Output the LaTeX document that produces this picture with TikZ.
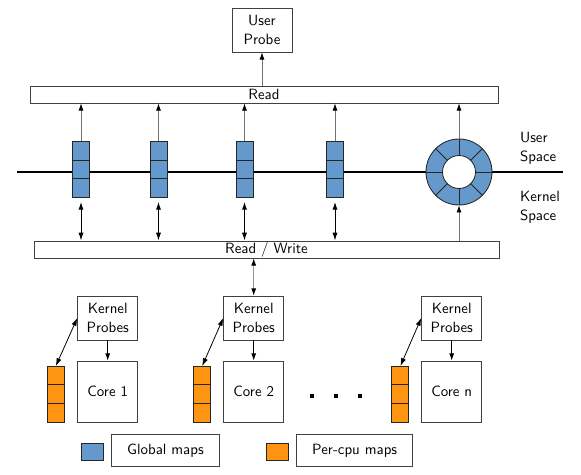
\documentclass[tikz,border=0pt]{standalone}
\usetikzlibrary{positioning,arrows.meta}
\definecolor{mapblue}{RGB}{101,153,204}
\definecolor{maporange}{RGB}{255,148,18}

\begin{document}
\begin{tikzpicture}[x=0.7pt,y=-0.7pt,
  box/.style={draw=black!75, line width=0.6pt, fill=white, inner sep=0pt, align=center, font=\sffamily\fontsize{10.4}{13}\selectfont},
  cell/.style={draw=black!85, line width=0.6pt, inner sep=0pt, outer sep=0pt, minimum width=11.9pt, minimum height=13.1pt},
  gcell/.style={cell, fill=mapblue},
  pcell/.style={cell, fill=maporange},
  arr/.style={-{Latex[length=5pt,width=3.5pt]}, line width=0.55pt},
  garr/.style={-{Latex[length=5pt,width=3.5pt,color=black]}, draw=black!55, line width=0.55pt},
  darr/.style={{Latex[length=5.5pt,width=3.6pt]}-{Latex[length=5.5pt,width=3.6pt]}, line width=0.7pt},
  gdarr/.style={{Latex[length=5pt,width=3.5pt,color=black]}-{Latex[length=5pt,width=3.5pt,color=black]}, draw=black!40, line width=0.5pt},
]
\useasboundingbox (0,0) rectangle (581,474);
\coordinate (lineL) at (17,172);
\coordinate (lineR) at (563,172);
\draw [line width=1.4pt] (lineL) -- (lineR);

\node[box, minimum width=42pt, minimum height=30.8pt] (up) at (262,30) {User\\Probe};
\node[box, minimum width=327.6pt, minimum height=11.9pt] (read) at (264,94.5) {Read};
\node[box, minimum width=325.5pt, minimum height=11.9pt] (rw) at (266.5,249.5) {Read / Write};
\draw [garr] (read.north -| up.south) -- (up.south);

\foreach \i/\x in {1/81,2/158.5,3/244.5,4/335}{
  \node[gcell] (g\i a) at (\x,150.8) {};
  \node[gcell, below=0pt of g\i a] (g\i b) {};
  \node[gcell, below=0pt of g\i b] (g\i c) {};
  \draw [garr] (g\i a.north) -- (g\i a.north |- read.south);
  \draw [darr, shorten <=3pt] (g\i c.south) -- (g\i c.south |- rw.north);
}

\node[circle, inner sep=0pt, minimum size=46.2pt] (ring) at (459,172) {};
\draw [black!85, line width=0.6pt, fill=mapblue] (ring.center) circle (23.1pt);
\draw [black!85, line width=0.6pt, fill=white] (ring.center) circle (11.55pt);
\foreach \a in {0,45,...,315}
  \draw [black!85, line width=0.6pt] ([shift={(\a:11.55pt)}]ring.center) -- ([shift={(\a:23.1pt)}]ring.center);
\draw [garr] (ring.north) -- (ring.north |- read.south);
\draw [garr] (ring.south |- rw.north) -- (ring.south);

\node[anchor=west, align=left, font=\sffamily\fontsize{10.4}{13}\selectfont] (us) at (515,148) {User\\Space};
\node[anchor=west, align=left, font=\sffamily\fontsize{10.4}{13}\selectfont] (ks) at (515,207) {Kernel\\Space};

\foreach \i/\x/\y in {1/107.7/55.8,2/253.7/202.2,n/451.7/400.4}{
  \node[box, minimum width=42pt, minimum height=30.8pt] (kp\i) at (\x,318) {Kernel\\Probes};
  \node[box, minimum width=42pt, minimum height=42.7pt] (core\i) at (\x,391.5) {Core \i};
  \node[pcell] (p\i a) at (\y,375.4) {};
  \node[pcell, below=0pt of p\i a] (p\i b) {};
  \node[pcell, below=0pt of p\i b] (p\i c) {};
  \draw [arr] (kp\i) -- (core\i);
  \draw [darr, line width=0.55pt] (p\i a.north) -- (kp\i.west);
}
\draw [gdarr] (rw.south -| kp2.north) -- (kp2.north);

\foreach \x [count=\k] in {311.7,335.5,360}
  \node[fill=black, inner sep=0pt, minimum size=2.8pt] (dot\k) at (\x,396) {};

\node[gcell, minimum width=15.4pt, minimum height=11.9pt] (lg) at (92.5,452) {};
\node[box, minimum width=75.6pt, minimum height=22.4pt] (lgt) at (165.5,450.7) {Global maps};
\node[pcell, minimum width=15.4pt, minimum height=11.9pt] (lp) at (277.5,452) {};
\node[box, minimum width=81.2pt, minimum height=22.4pt] (lpt) at (354.7,450.7) {Per-cpu maps};
\end{tikzpicture}
\end{document}
